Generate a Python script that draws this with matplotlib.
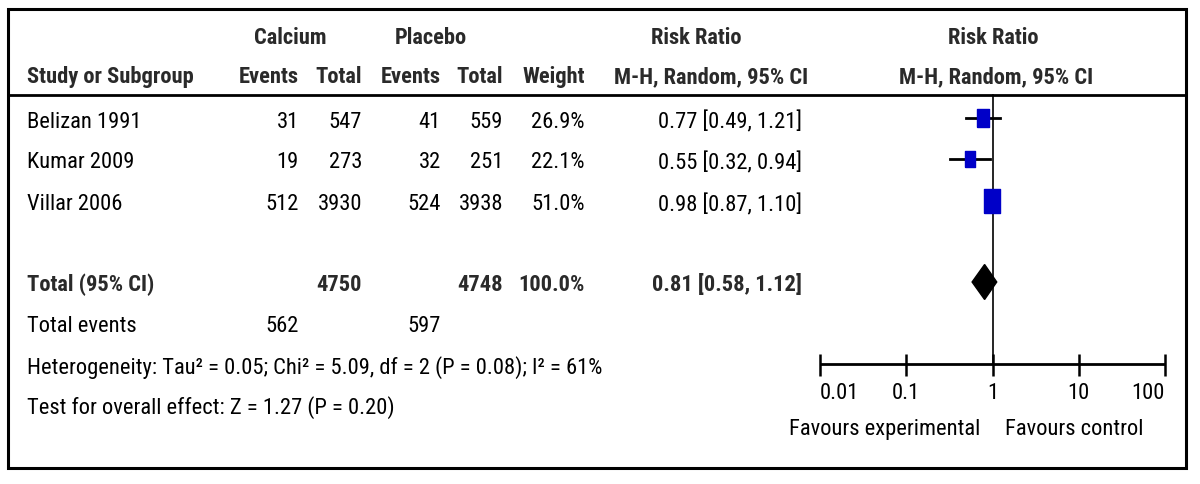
import numpy as np
import matplotlib.pyplot as plt
from matplotlib import font_manager
from matplotlib.patches import Rectangle

studies = ["Belizan 1991", "Kumar 2009", "Villar 2006"]
calcium_events = [31, 19, 512]
calcium_total = [547, 273, 3930]
placebo_events = [41, 32, 524]
placebo_total = [559, 251, 3938]
weights = [26.9, 22.1, 51.0]
rr = [0.77, 0.55, 0.98]
rr_low = [0.49, 0.32, 0.87]
rr_high = [1.21, 0.94, 1.10]

pooled = (0.81, 0.58, 1.12)
heterogeneity = "Heterogeneity: Tau\u00b2 = 0.05; Chi\u00b2 = 5.09, df = 2 (P = 0.08); I\u00b2 = 61%"
overall_effect = "Test for overall effect: Z = 1.27 (P = 0.20)"
x_ticks = [0.01, 0.1, 1, 10, 100]
x_tick_labels = ["0.01", "0.1", "1", "10", "100"]

# pick a condensed font if there is one
available = {f.name for f in font_manager.fontManager.ttflist}
family = "DejaVu Sans"
for name in ["Liberation Sans Narrow", "Arial Narrow", "Roboto Condensed", "Liberation Sans"]:
    if name in available:
        family = name
        break
plt.rcParams["font.family"] = [family, "DejaVu Sans"]
FS = 16.2
BOLD = "#2a2a2a"

fig = plt.figure(figsize=(12, 4.85), dpi=100)
ax = fig.add_axes([0, 0, 1, 1])
ax.set_xlim(0, 1200)
ax.set_ylim(485, 0)
ax.axis("off")

ax.add_patch(Rectangle((8, 10), 1178, 459, fill=False, lw=2.2, ec="black"))
ax.plot([8, 1186], [96, 96], color="black", lw=2)

# header
h1, h2 = 38, 77
ax.text(290, h1, "Calcium", fontsize=FS, weight="bold", color=BOLD, ha="center", va="center")
ax.text(431, h1, "Placebo", fontsize=FS, weight="bold", color=BOLD, ha="center", va="center")
ax.text(696, h1, "Risk Ratio", fontsize=FS, weight="bold", color=BOLD, ha="center", va="center")
ax.text(993, h1, "Risk Ratio", fontsize=FS, weight="bold", color=BOLD, ha="center", va="center")
ax.text(27, h2, "Study or Subgroup", fontsize=FS, weight="bold", color=BOLD, ha="left", va="center")
col_right = [299, 362, 441, 503, 585]
for x, lab in zip(col_right, ["Events", "Total", "Events", "Total", "Weight"]):
    ax.text(x, h2, lab, fontsize=FS, weight="bold", color=BOLD, ha="right", va="center")
ax.text(711, h2, "M-H, Random, 95% CI", fontsize=FS, weight="bold", color=BOLD, ha="center", va="center")
ax.text(996, h2, "M-H, Random, 95% CI", fontsize=FS, weight="bold", color=BOLD, ha="center", va="center")

# study rows
row_y = [119, 160, 202]
for i, name in enumerate(studies):
    y = row_y[i] + 3
    ax.text(27, y, name, fontsize=FS, ha="left", va="center")
    vals = [calcium_events[i], calcium_total[i], placebo_events[i], placebo_total[i]]
    for x, v in zip(col_right[:4], vals):
        ax.text(x, y, str(v), fontsize=FS, ha="right", va="center")
    ax.text(col_right[4], y, f"{weights[i]:.1f}%", fontsize=FS, ha="right", va="center")
    ax.text(802, y, f"{rr[i]:.2f} [{rr_low[i]:.2f}, {rr_high[i]:.2f}]", fontsize=FS, ha="right", va="center")

# totals
ty = 285
ax.text(27, ty, "Total (95% CI)", fontsize=FS, weight="bold", color=BOLD, ha="left", va="center")
ax.text(col_right[1], ty, str(sum(calcium_total)), fontsize=FS, weight="bold", color=BOLD, ha="right", va="center")
ax.text(col_right[3], ty, str(sum(placebo_total)), fontsize=FS, weight="bold", color=BOLD, ha="right", va="center")
ax.text(col_right[4], ty, f"{sum(weights):.1f}%", fontsize=FS, weight="bold", color=BOLD, ha="right", va="center")
ax.text(802, ty, f"{pooled[0]:.2f} [{pooled[1]:.2f}, {pooled[2]:.2f}]", fontsize=FS, weight="bold",
        color=BOLD, ha="right", va="center")

ax.text(27, 327, "Total events", fontsize=FS, ha="left", va="center")
ax.text(col_right[0], 327, str(sum(calcium_events)), fontsize=FS, ha="right", va="center")
ax.text(col_right[2], 327, str(sum(placebo_events)), fontsize=FS, ha="right", va="center")
ax.text(27, 368, heterogeneity, fontsize=FS, ha="left", va="center")
ax.text(27, 408, overall_effect, fontsize=FS, ha="left", va="center")

# forest plot on a log axis
fa = fig.add_axes([820 / 1200, 0, 345 / 1200, 1])
fa.set_xscale("log")
fa.set_xlim(0.01, 100)
fa.set_ylim(485, 0)
fa.axis("off")

fa.plot([1, 1], [96, 365], color="black", lw=1.2, clip_on=False)
fa.plot([0.01, 100], [365, 365], color="black", lw=2, clip_on=False, solid_capstyle="butt")
fa.vlines(x_ticks, 355, 377, color="black", lw=1.8, clip_on=False)
tick_ha = ["left", "center", "center", "center", "right"]
for t, lab, ha in zip(x_ticks, x_tick_labels, tick_ha):
    fa.text(t, 394, lab, fontsize=FS, ha=ha, va="center")
fa.text(0.72, 430, "Favours experimental", fontsize=FS, ha="right", va="center", clip_on=False)
fa.text(1.4, 430, "Favours control", fontsize=FS, ha="left", va="center")

rect = [(-0.33, -0.5), (0.33, -0.5), (0.33, 0.5), (-0.33, 0.5), (-0.33, -0.5)]
for i in range(len(studies)):
    fa.plot([rr_low[i], rr_high[i]], [row_y[i], row_y[i]], color="black", lw=2)
    size_px = 3.3 * np.sqrt(weights[i])
    fa.plot(rr[i], row_y[i], marker=rect, markersize=size_px * 0.72, color="#0000c8",
            markeredgecolor="#0000c8", linestyle="none")

dh = 17.5
fa.fill([pooled[1], pooled[0], pooled[2], pooled[0]], [283, 283 - dh, 283, 283 + dh], color="black")

fig.savefig("out.png", dpi=100)
